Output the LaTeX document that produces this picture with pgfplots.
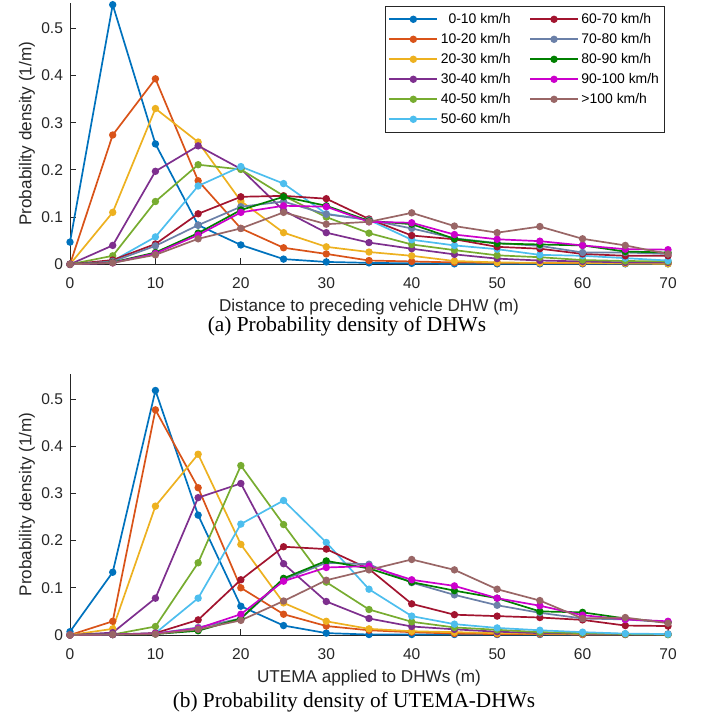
\documentclass[border=0pt]{standalone}
\usepackage{fontspec}
\setmainfont{Liberation Sans}
\newfontfamily\capfont{Liberation Serif}
\usepackage{pgfplots}
\usepackage{pgfplotstable}
\pgfplotsset{compat=1.18}

\definecolor{c1}{rgb}{0,0.447,0.741}
\definecolor{c2}{rgb}{0.85,0.325,0.098}
\definecolor{c3}{rgb}{0.929,0.694,0.125}
\definecolor{c4}{rgb}{0.494,0.184,0.556}
\definecolor{c5}{rgb}{0.466,0.674,0.188}
\definecolor{c6}{rgb}{0.301,0.745,0.933}
\definecolor{c7}{rgb}{0.635,0.078,0.184}
\definecolor{c8}{rgb}{0.42,0.50,0.66}
\definecolor{c9}{rgb}{0.0,0.5,0.0}
\definecolor{c10}{rgb}{0.8,0.0,0.8}
\definecolor{c11}{rgb}{0.6,0.4,0.4}
\definecolor{axgray}{rgb}{0.15,0.15,0.15}

% DHW densities, 11 speed classes
\pgfplotstableread{
x  s1    s2    s3    s4    s5    s6    s7    s8    s9    s10   s11
0  0.047 0     0     0     0     0     0     0     0     0     0
5  0.550 0.274 0.110 0.040 0.018 0.007 0.009 0.006 0.004 0.003 0.003
10 0.255 0.393 0.330 0.197 0.133 0.058 0.043 0.039 0.025 0.023 0.020
15 0.083 0.177 0.259 0.251 0.211 0.166 0.107 0.083 0.066 0.062 0.054
20 0.041 0.076 0.134 0.202 0.201 0.207 0.143 0.122 0.115 0.110 0.076
25 0.011 0.035 0.067 0.114 0.145 0.171 0.145 0.133 0.143 0.124 0.110
30 0.005 0.022 0.037 0.067 0.100 0.107 0.139 0.106 0.124 0.122 0.085
35 0.003 0.008 0.026 0.046 0.066 0.094 0.096 0.094 0.092 0.090 0.090
40 0.002 0.006 0.018 0.033 0.042 0.052 0.061 0.076 0.085 0.088 0.109
45 0.001 0.004 0.007 0.021 0.030 0.040 0.053 0.055 0.054 0.063 0.081
50 0.001 0.003 0.004 0.012 0.019 0.032 0.037 0.045 0.044 0.053 0.067
55 0.001 0.003 0.003 0.008 0.015 0.020 0.033 0.039 0.042 0.049 0.080
60 0.001 0.002 0.003 0.006 0.009 0.018 0.022 0.025 0.040 0.040 0.054
65 0.001 0.002 0.002 0.004 0.007 0.013 0.018 0.025 0.027 0.032 0.040
70 0.001 0.002 0.001 0.004 0.006 0.008 0.018 0.022 0.025 0.031 0.022
}\dhw

% UTEMA-DHW densities
\pgfplotstableread{
x  s1    s2    s3    s4    s5    s6    s7    s8    s9    s10   s11
0  0.007 0     0     0     0     0     0     0     0     0     0
5  0.133 0.029 0.013 0.005 0.001 0.001 0.001 0.001 0.001 0.001 0.001
10 0.518 0.477 0.273 0.078 0.018 0.004 0.004 0.003 0.002 0.003 0.002
15 0.254 0.312 0.383 0.291 0.153 0.078 0.032 0.016 0.009 0.014 0.012
20 0.061 0.100 0.192 0.321 0.359 0.235 0.117 0.035 0.035 0.044 0.031
25 0.020 0.044 0.068 0.151 0.234 0.285 0.187 0.117 0.120 0.114 0.072
30 0.004 0.019 0.029 0.071 0.112 0.196 0.182 0.153 0.157 0.143 0.116
35 0.001 0.010 0.013 0.035 0.054 0.097 0.140 0.150 0.141 0.146 0.138
40 0.001 0.006 0.008 0.018 0.028 0.040 0.066 0.111 0.112 0.117 0.160
45 0.001 0.003 0.006 0.012 0.016 0.023 0.043 0.085 0.094 0.104 0.138
50 0.001 0.002 0.004 0.007 0.011 0.015 0.040 0.063 0.078 0.078 0.097
55 0.001 0.002 0.003 0.004 0.006 0.010 0.037 0.047 0.050 0.062 0.073
60 0.001 0.001 0.002 0.003 0.004 0.006 0.032 0.035 0.048 0.042 0.035
65 0.001 0.001 0.002 0.002 0.002 0.003 0.020 0.033 0.035 0.033 0.037
70 0.001 0.001 0.002 0.002 0.001 0.002 0.019 0.027 0.027 0.029 0.025
}\utema

\pgfplotsset{
  ser/.style={line width=0.85bp, mark=*, mark size=1.4bp, mark options={solid}},
  s1/.style={ser, color=c1},  s2/.style={ser, color=c2},
  s3/.style={ser, color=c3},  s4/.style={ser, color=c4},
  s5/.style={ser, color=c5},  s6/.style={ser, color=c6},
  s7/.style={ser, color=c7},  s8/.style={ser, color=c8},
  s9/.style={ser, color=c9},  s10/.style={ser, color=c10},
  s11/.style={ser, color=c11},
  panel/.style={
    scale only axis, width=299bp, height=130.5bp,
    xmin=0, xmax=70, ymin=0, ymax=0.553,
    xtick={0,10,...,70}, ytick={0,0.1,...,0.5},
    yticklabels={0,0.1,0.2,0.3,0.4,0.5},
    axis x line*=bottom, axis y line*=left,
    axis line style={-, draw=axgray, line width=0.5bp},
    tick align=inside, major tick length=3bp,
    tick style={draw=axgray, line width=0.5bp},
    tick label style={font=\fontsize{7.8}{9}\selectfont, text=axgray},
    xticklabel style={yshift=-3.2bp},
    /pgf/number format/assume math mode=true,
    xlabel style={font=\fontsize{8.6}{10}\selectfont, text=axgray,
      at={(axis description cs:0.5,-0.1816)}, anchor=base},
    ylabel style={font=\fontsize{8.6}{10}\selectfont, text=axgray,
      at={(axis description cs:-0.072,0.5)}, anchor=center},
    clip=false,
  },
}

\begin{document}
\begin{tikzpicture}
\path[use as bounding box] (0,0) rectangle (351bp,360.5bp);

\begin{axis}[panel, at={(35bp,228.35bp)}, anchor=south west,
  xlabel={Distance to preceding vehicle DHW (m)},
  ylabel={Probability density (1/m)},
  legend columns=2,
  legend cell align=left,
  legend image code/.code={\draw[line width=0.85bp, mark repeat=2, mark phase=2]
    plot coordinates {(0bp,0bp) (12bp,0bp) (24bp,0bp)};},
  legend style={at={(rel axis cs:0.995,0.99)}, anchor=north east,
    draw=axgray, fill=white,
    font=\fontsize{7}{8}\selectfont, inner sep=1.5bp, row sep=0pt,
    nodes={inner sep=1.3bp, text height=5.6bp, text depth=1.8bp},
    /tikz/every even column/.append style={column sep=8bp}},
]
\pgfplotsinvokeforeach{s1,s2,s3,s4,s5,s6,s7,s8,s9,s10,s11}{
  \addplot[#1, forget plot] table[x=x, y=#1] {\dhw};
}
\addlegendimage{s1}  \addlegendentry{\hphantom{1}0-10 km/h}
\addlegendimage{s7}  \addlegendentry{60-70 km/h}
\addlegendimage{s2}  \addlegendentry{10-20 km/h}
\addlegendimage{s8}  \addlegendentry{70-80 km/h}
\addlegendimage{s3}  \addlegendentry{20-30 km/h}
\addlegendimage{s9}  \addlegendentry{80-90 km/h}
\addlegendimage{s4}  \addlegendentry{30-40 km/h}
\addlegendimage{s10} \addlegendentry{90-100 km/h}
\addlegendimage{s5}  \addlegendentry{40-50 km/h}
\addlegendimage{s11} \addlegendentry{>100 km/h}
\addlegendimage{s6}  \addlegendentry{50-60 km/h}
\end{axis}

\begin{axis}[panel, at={(35bp,43bp)}, anchor=south west,
  xlabel={UTEMA applied to DHWs (m)},
  ylabel={Probability density (1/m)},
]
\pgfplotsinvokeforeach{s1,s2,s3,s4,s5,s6,s7,s8,s9,s10,s11}{
  \addplot[#1] table[x=x, y=#1] {\utema};
}
\end{axis}

\node[anchor=base, font=\capfont\fontsize{10.7}{13}\selectfont]
  at (173.5bp,194.5bp) {(a) Probability density of DHWs};
\node[anchor=base, font=\capfont\fontsize{10.7}{13}\selectfont]
  at (177bp,7bp) {(b) Probability density of UTEMA-DHWs};
\end{tikzpicture}
\end{document}
